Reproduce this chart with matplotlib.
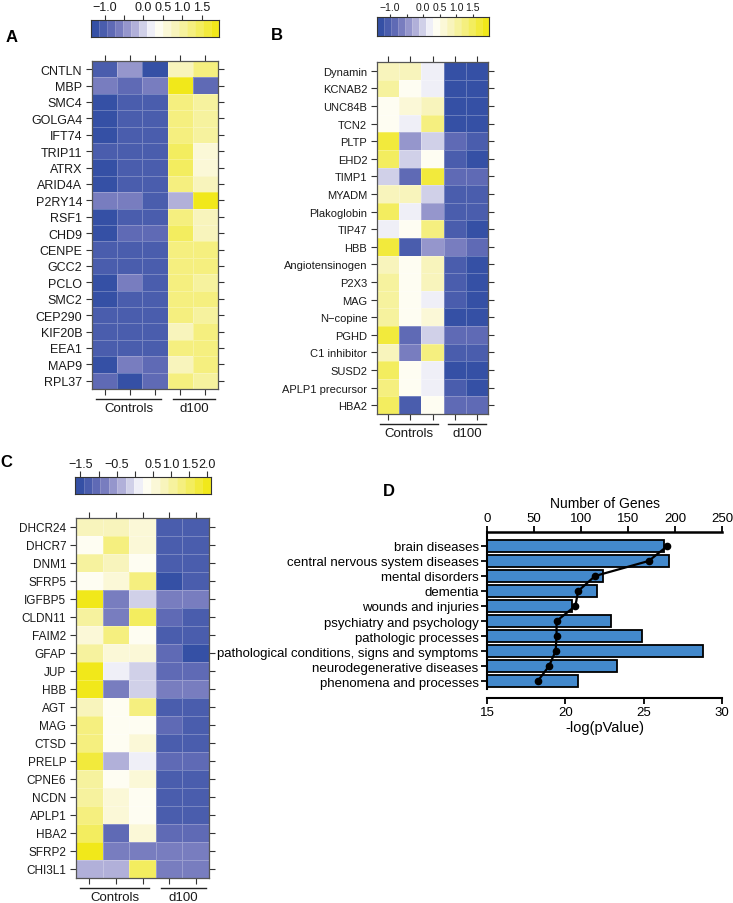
import numpy as np
import matplotlib
matplotlib.use('Agg')
import matplotlib.pyplot as plt
from matplotlib.colors import LinearSegmentedColormap, ListedColormap, BoundaryNorm

plt.rcParams['font.family'] = ['Liberation Sans', 'DejaVu Sans']

# ---------------- data ----------------
groups = ['Controls', 'd100']

genes_a = ['CNTLN', 'MBP', 'SMC4', 'GOLGA4', 'IFT74', 'TRIP11', 'ATRX', 'ARID4A',
           'P2RY14', 'RSF1', 'CHD9', 'CENPE', 'GCC2', 'PCLO', 'SMC2', 'CEP290',
           'KIF20B', 'EEA1', 'MAP9', 'RPL37']
vals_a = [[-1.1, -0.35, -1.2, 0.9, 1.3],
          [-0.7, -0.9, -0.7, 1.8, -0.9],
          [-1.15, -0.95, -0.95, 1.3, 0.95],
          [-1.15, -0.95, -0.95, 1.3, 1.0],
          [-1.15, -0.95, -0.95, 1.3, 1.0],
          [-1.1, -0.95, -0.95, 1.45, 0.7],
          [-1.15, -0.95, -0.95, 1.5, 0.6],
          [-1.15, -0.95, -0.95, 1.3, 0.9],
          [-0.6, -0.6, -1.0, -0.3, 1.75],
          [-1.2, -0.95, -0.95, 1.3, 0.9],
          [-1.2, -0.9, -0.9, 1.35, 0.9],
          [-1.1, -0.95, -1.1, 1.2, 1.2],
          [-1.1, -0.95, -1.1, 1.2, 1.2],
          [-1.2, -0.65, -1.1, 1.2, 1.1],
          [-1.2, -0.95, -1.1, 1.3, 1.15],
          [-1.1, -0.95, -1.1, 1.3, 0.95],
          [-1.1, -0.95, -0.95, 0.9, 1.25],
          [-1.1, -1.05, -0.95, 1.25, 1.2],
          [-1.25, -0.65, -0.9, 0.9, 1.25],
          [-0.85, -1.2, -0.9, 1.25, 1.1]]

genes_b = ['Dynamin', 'KCNAB2', 'UNC84B', 'TCN2', 'PLTP', 'EHD2', 'TIMP1', 'MYADM',
           'Plakoglobin', 'TIP47', 'HBB', 'Angiotensinogen', 'P2X3', 'MAG', 'N\u2212copine',
           'PGHD', 'C1 inhibitor', 'SUSD2', 'APLP1 precursor', 'HBA2']
vals_b = [[0.9, 0.8, 0.15, -1.2, -1.2],
          [1.1, 0.5, 0.2, -1.2, -1.2],
          [0.5, 0.55, 0.75, -1.2, -1.2],
          [0.5, 0.15, 1.2, -1.2, -1.2],
          [1.6, -0.5, 0.0, -0.9, -1.1],
          [1.4, 0.0, 0.4, -1.1, -1.2],
          [0.0, -0.85, 1.6, -0.9, -0.85],
          [0.9, 0.8, 0.0, -1.15, -1.1],
          [1.5, 0.2, -0.4, -1.1, -1.05],
          [0.15, 0.5, 1.2, -1.15, -1.2],
          [1.6, -1.0, -0.45, -0.75, -0.85],
          [0.85, 0.4, 0.9, -1.15, -1.25],
          [1.0, 0.4, 0.85, -1.15, -1.2],
          [1.1, 0.4, 0.15, -1.1, -1.2],
          [1.0, 0.4, 0.6, -1.2, -1.2],
          [1.6, -0.8, -0.05, -0.9, -0.9],
          [0.8, -0.75, 1.3, -1.1, -1.1],
          [1.4, 0.4, 0.15, -1.2, -1.2],
          [1.2, 0.35, 0.15, -1.15, -1.2],
          [1.4, -1.0, 0.5, -0.95, -0.9]]

genes_c = ['DHCR24', 'DHCR7', 'DNM1', 'SFRP5', 'IGFBP5', 'CLDN11', 'FAIM2', 'GFAP',
           'JUP', 'HBB', 'AGT', 'MAG', 'CTSD', 'PRELP', 'CPNE6', 'NCDN', 'APLP1',
           'HBA2', 'SFRP2', 'CHI3L1']
vals_c = [[0.9, 0.9, 0.6, -1.25, -1.3],
          [0.3, 1.3, 0.6, -1.25, -1.2],
          [1.0, 0.8, 0.3, -1.25, -1.3],
          [0.3, 0.6, 1.3, -1.45, -1.2],
          [1.9, -0.8, -0.1, -0.85, -0.75],
          [1.0, -0.8, 1.4, -1.1, -1.25],
          [0.5, 1.3, 0.3, -1.25, -1.2],
          [1.0, 0.65, 0.65, -1.1, -1.45],
          [1.9, 0.1, -0.2, -1.0, -1.0],
          [1.9, -0.85, -0.2, -0.8, -0.75],
          [0.8, 0.3, 1.3, -1.3, -1.4],
          [1.2, 0.3, 0.3, -1.1, -1.35],
          [1.2, 0.3, 0.55, -1.25, -1.2],
          [1.8, -0.45, 0.1, -1.0, -0.95],
          [1.0, 0.3, 0.55, -1.3, -1.4],
          [1.0, 0.6, 0.35, -1.25, -1.25],
          [1.2, 0.6, 0.3, -1.25, -1.4],
          [1.5, -1.1, 0.55, -0.95, -0.95],
          [1.9, -0.75, -0.8, -0.75, -0.75],
          [-0.4, -0.4, 1.6, -0.8, -0.75]]

terms = ['brain diseases', 'central nervous system diseases', 'mental disorders',
         'dementia', 'wounds and injuries', 'psychiatry and psychology',
         'pathologic processes', 'pathological conditions, signs and symptoms',
         'neurodegenerative diseases', 'phenomena and processes']
logp = [26.3, 26.6, 22.4, 22.0, 20.4, 22.9, 24.9, 28.8, 23.3, 20.8]
n_genes = [192, 172, 115, 97, 94, 74, 74, 73, 66, 54]

# ---------------- figure ----------------
W, H = 733, 904
fig = plt.figure(figsize=(W / 100, H / 100), dpi=100)


def rect(x0, y0, x1, y1):
    return [x0 / W, 1 - y1 / H, (x1 - x0) / W, (y1 - y0) / H]


base = LinearSegmentedColormap.from_list(
    'bwy', ['#3550A5', '#6A70B9', '#B1B0D9', '#FFFFFF', '#F8F4BC', '#F4EE70', '#F1E81A'])
cmap = ListedColormap(base(np.linspace(0, 1, 16)))


def heatmap(box, genes, vals, lo, hi, fs):
    ax = fig.add_axes(rect(*box))
    data = np.array(vals)
    bounds = np.linspace(lo, hi, 17)
    norm = BoundaryNorm(bounds, cmap.N)
    ax.pcolormesh(np.arange(6) - 0.5, np.arange(len(genes) + 1) - 0.5, data,
                  cmap=cmap, norm=norm, edgecolors=(1, 1, 1, 0.25), linewidth=0.5)
    ax.set_xlim(-0.5, 4.5)
    ax.set_ylim(len(genes) - 0.5, -0.5)
    ax.set_yticks(range(len(genes)))
    ax.set_yticklabels(genes, fontsize=fs, color='#1a1a1a')
    ax.set_xticks(range(5))
    ax.set_xticklabels([])
    ax.tick_params(top=True, right=True, direction='out', length=4.5, width=0.8,
                   color='#333333', pad=2.5)
    for s in ax.spines.values():
        s.set_color('#555555')
        s.set_linewidth(0.9)
    hpx = box[3] - box[1]
    tr = ax.get_xaxis_transform()
    for (x0, x1), lab in zip([(-0.35, 2.25), (2.7, 4.4)], groups):
        ax.plot([x0, x1], [-10 / hpx, -10 / hpx], transform=tr, color='#222222',
                lw=1.0, clip_on=False)
        ax.text((x0 + x1) / 2, -19 / hpx, lab, transform=tr, ha='center', va='center',
                fontsize=9.5, color='#1a1a1a')
    return ax


def colorbar(box, lo, hi, ticks, labels, fs, tlen=4):
    cax = fig.add_axes(rect(*box))
    bounds = np.linspace(lo, hi, 17)
    norm = BoundaryNorm(bounds, cmap.N)
    mids = (bounds[:-1] + bounds[1:]) / 2
    cax.pcolormesh(bounds, [0, 1], mids[None, :], cmap=cmap, norm=norm,
                   edgecolors=(1, 1, 1, 0.15), linewidth=0.4)
    cax.set_xlim(lo, hi)
    cax.set_ylim(0, 1)
    cax.set_yticks([])
    cax.xaxis.tick_top()
    cax.set_xticks(ticks)
    cax.set_xticklabels(labels, fontsize=fs, color='#1a1a1a')
    cax.tick_params(axis='x', direction='out', length=tlen, width=0.8, pad=1.2,
                    color='#333333')
    for s in cax.spines.values():
        s.set_color('#333333')
        s.set_linewidth(0.8)


# Panel A
heatmap((92, 62, 218, 390), genes_a, vals_a, -1.35, 1.95, 9)
colorbar((91, 21, 219, 38), -1.35, 1.95, [-1.0, -0.5, 0.0, 0.5, 1.0, 1.5],
         ['\u22121.0', '', '0.0', '0.5', '1.0', '1.5'], 9, tlen=3.5)

# Panel B
heatmap((377, 63, 488, 415), genes_b, vals_b, -1.4, 2.0, 8)
colorbar((377, 18, 489, 37), -1.4, 2.0, [-1.0, -0.5, 0.0, 0.5, 1.0, 1.5],
         ['\u22121.0', '', '0.0', '0.5', '1.0', '1.5'], 7.5, tlen=2.5)

# Panel C
heatmap((76, 519, 209, 879), genes_c, vals_c, -1.65, 2.1, 8.5)
colorbar((75, 478, 211, 495), -1.65, 2.1, [-1.5, -1.0, -0.5, 0.0, 0.5, 1.0, 1.5, 2.0],
         ['\u22121.5', '', '\u22120.5', '', '0.5', '1.0', '1.5', '2.0'], 9)

# Panel D
axd = fig.add_axes(rect(487, 533, 722, 699))
y = np.arange(len(terms))
axd.barh(y, np.array(logp) - 15, left=15, height=0.74, color='#4389CC',
         edgecolor='black', linewidth=1.3)
axd.set_xlim(15, 30)
axd.set_ylim(len(terms) + 0.13, -0.93)
axd.set_yticks(y)
axd.set_yticklabels(terms, fontsize=9)
axd.set_xticks([15, 20, 25, 30])
axd.tick_params(axis='both', direction='out', length=4, width=1.3, pad=2, labelsize=9.5)
axd.set_xlabel('-log(pValue)', fontsize=10.5, labelpad=1)
for side in ['top', 'right']:
    axd.spines[side].set_visible(False)
axd.spines['left'].set_bounds(-0.93, len(terms) - 0.47)
axd.spines['left'].set_linewidth(1.5)
axd.spines['bottom'].set_linewidth(1.5)

axt = axd.twiny()
axt.plot(n_genes, y, color='black', lw=1.6, marker='o', ms=4.5)
axt.set_xlim(0, 250)
axt.set_xticks([0, 50, 100, 150, 200, 250])
axt.tick_params(axis='x', direction='out', length=4, width=1.3, pad=2, labelsize=9.5)
axt.set_xlabel('Number of Genes', fontsize=10, labelpad=3)
for side in ['bottom', 'left', 'right']:
    axt.spines[side].set_visible(False)
axt.spines['top'].set_linewidth(1.8)

# panel letters
for lab, (px, py) in zip('ABCD', [(12, 38), (277, 35), (6, 463), (389, 492)]):
    fig.text(px / W, 1 - py / H, lab, fontsize=12, fontweight='bold',
             ha='center', va='center')

fig.savefig('out.png', dpi=100)
